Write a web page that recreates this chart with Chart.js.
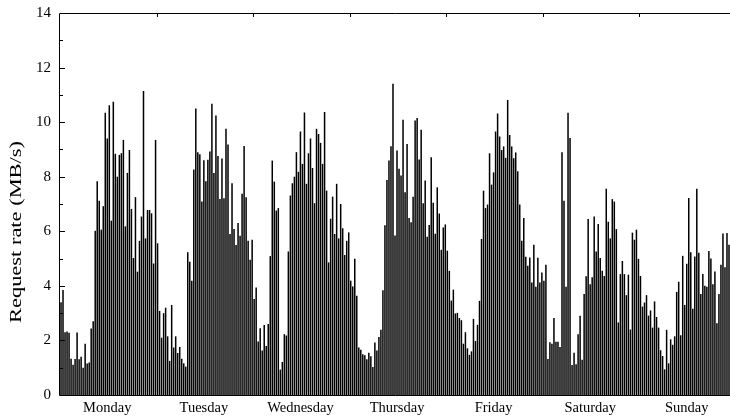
<!DOCTYPE html>
<html>
<head>
<meta charset="utf-8">
<script src="https://cdn.jsdelivr.net/npm/chart.js@4.4.0/dist/chart.umd.min.js"></script>
<style>
  html, body { margin: 0; padding: 0; background: #fff; }
  #chart { display: block; }
</style>
</head>
<body>
<canvas id="chart" width="730" height="418"></canvas>
<script>
// one bar per half hour, 48 per day
const days = ['Monday', 'Tuesday', 'Wednesday', 'Thursday', 'Friday', 'Saturday', 'Sunday'];
const perDay = 48;
const yMax = 14;
const yStep = 2;
const yLabel = 'Request rate (MB/s)';

const monday = [3.4, 3.85, 2.3, 2.33, 2.28, 1.33, 1.11, 1.32, 2.29, 1.31, 1.4, 1.0, 1.88, 1.15, 1.19, 2.44,
  2.7, 6.02, 7.83, 7.12, 6.06, 6.92, 10.34, 9.4, 10.62, 6.39, 10.75, 8.84, 8.0, 8.8, 8.86, 9.35,
  6.18, 8.14, 8.98, 6.82, 5.02, 7.25, 4.52, 5.65, 6.54, 11.14, 5.74, 6.78, 6.78, 6.66, 4.82, 9.35];
const tuesday = [5.56, 3.08, 2.1, 3.0, 3.2, 2.15, 1.25, 3.3, 1.74, 2.15, 1.54, 1.76, 1.33, 1.16, 1.04, 5.23,
  4.88, 4.19, 8.26, 10.5, 8.9, 8.82, 7.09, 8.6, 7.83, 8.62, 8.92, 10.67, 8.14, 10.24, 8.76, 7.18,
  8.67, 7.21, 9.76, 9.18, 5.9, 7.76, 6.08, 5.5, 6.3, 5.84, 7.38, 9.13, 7.25, 5.65, 4.96, 5.69];
const wednesday = [3.52, 3.94, 1.96, 2.45, 1.63, 2.57, 1.8, 2.6, 5.09, 8.59, 7.82, 6.76, 6.85, 0.93, 1.21, 2.23,
  2.18, 5.26, 7.31, 7.76, 8.0, 8.9, 8.18, 9.66, 8.47, 10.35, 7.74, 8.86, 9.4, 8.32, 7.03, 9.76,
  9.57, 9.24, 8.47, 10.37, 7.49, 4.86, 6.46, 7.27, 5.9, 7.74, 5.74, 7.0, 6.11, 5.13, 5.65, 5.96];
const thursday = [4.19, 3.98, 4.99, 3.64, 1.74, 1.66, 1.49, 1.46, 1.31, 1.55, 1.42, 1.03, 1.92, 1.63, 2.13, 2.39,
  3.84, 6.22, 7.88, 8.59, 9.12, 11.41, 5.85, 8.96, 8.29, 8.04, 10.09, 7.43, 9.2, 6.49, 6.33, 7.27,
  10.06, 10.15, 8.63, 9.72, 7.03, 7.86, 5.8, 6.23, 8.71, 7.05, 5.91, 7.61, 6.65, 5.32, 6.14, 6.25];
const friday = [5.29, 4.55, 3.46, 3.86, 2.99, 3.01, 2.82, 2.74, 1.88, 2.3, 1.71, 1.47, 1.6, 2.79, 1.98, 2.57,
  3.45, 5.72, 7.49, 6.85, 6.98, 8.86, 7.71, 8.16, 9.66, 10.32, 9.47, 8.98, 9.11, 8.69, 10.81, 9.53,
  9.11, 8.68, 8.89, 8.2, 6.98, 5.65, 6.49, 5.07, 4.74, 5.04, 4.12, 5.51, 3.97, 5.03, 4.12, 4.49];
const saturday = [4.19, 4.77, 1.32, 1.93, 1.88, 2.82, 1.95, 1.95, 1.76, 8.9, 7.12, 3.97, 10.34, 9.42, 1.1, 1.55,
  1.13, 2.23, 2.9, 1.29, 3.7, 4.35, 6.45, 4.06, 4.32, 6.54, 5.26, 6.27, 5.02, 4.55, 4.36, 7.56,
  6.35, 5.74, 7.18, 7.09, 6.08, 2.66, 4.43, 4.91, 4.43, 3.66, 4.41, 2.4, 5.95, 5.69, 6.06, 4.99];
const sunday = [4.36, 3.24, 3.39, 3.66, 2.91, 3.1, 2.47, 3.43, 2.86, 2.47, 1.64, 1.43, 0.94, 2.39, 1.16, 2.04,
  1.84, 2.15, 3.78, 4.15, 2.19, 5.1, 3.3, 4.81, 7.22, 5.23, 3.16, 5.08, 7.56, 5.21, 3.7, 4.43,
  4.0, 3.97, 5.28, 5.0, 4.06, 4.53, 2.63, 3.7, 4.77, 5.92, 4.68, 5.94, 5.51];

const rates = [].concat(monday, tuesday, wednesday, thursday, friday, saturday, sunday);

const serif = '"Liberation Serif", "Times New Roman", serif';

// box round the plot, with gnuplot-style inward ticks
const frame = {
  id: 'frame',
  afterDatasetsDraw(chart) {
    const { ctx, chartArea: a, scales } = chart;
    const y = scales.y;
    ctx.save();
    ctx.strokeStyle = '#000';
    ctx.lineWidth = 1;
    ctx.beginPath();
    ctx.rect(a.left - 0.5, a.top + 0.5, a.right - a.left + 2, a.bottom - a.top);
    for (let v = 0; v <= yMax; v++) {
      const py = Math.round(y.getPixelForValue(v)) + 0.5;
      const len = v % yStep === 0 ? 5 : 3;
      ctx.moveTo(a.left, py); ctx.lineTo(a.left + len, py);
    }
    const pitch = (a.right - a.left) / rates.length;
    for (let d = 1; d < days.length; d++) {
      const px = Math.round(a.left + pitch * d * perDay) + 0.5;
      ctx.moveTo(px, a.top); ctx.lineTo(px, a.top + 4);
    }
    ctx.stroke();

    // y title
    ctx.fillStyle = '#000';
    ctx.font = '17px ' + serif;
    ctx.textAlign = 'center';
    ctx.textBaseline = 'middle';
    const w = ctx.measureText(yLabel).width;
    ctx.translate(17, 232);
    ctx.rotate(-Math.PI / 2);
    ctx.scale(182 / w, 1);
    ctx.fillText(yLabel, 0, 0);
    ctx.restore();
  }
};

new Chart(document.getElementById('chart'), {
  type: 'bar',
  data: {
    labels: rates.map((_, i) => i),
    datasets: [{
      data: rates,
      backgroundColor: '#000',
      borderWidth: 0,
      categoryPercentage: 1,
      barPercentage: 0.75
    }]
  },
  options: {
    responsive: false,
    animation: false,
    layout: { padding: { top: 13, right: 0, left: 0, bottom: 0 } },
    plugins: { legend: { display: false }, tooltip: { enabled: false } },
    scales: {
      x: {
        grid: { display: false, drawTicks: false },
        border: { display: false },
        ticks: {
          autoSkip: false,
          maxRotation: 0,
          minRotation: 0,
          padding: 4,
          color: '#000',
          font: { family: serif, size: 14.5 },
          callback: (v, i) => (i % perDay === 23 ? days[Math.floor(i / perDay)] : '')
        },
        afterFit: s => { s.height = 23; s.paddingLeft = 0; s.paddingRight = 0; }
      },
      y: {
        min: 0,
        max: yMax,
        grid: { display: false, drawTicks: false },
        border: { display: false },
        ticks: {
          stepSize: yStep,
          padding: 9,
          color: '#000',
          font: { family: serif, size: 15 }
        },
        afterFit: s => { s.width = 60; s.paddingTop = 0; s.paddingBottom = 0; }
      }
    }
  },
  plugins: [frame]
});
</script>
</body>
</html>
